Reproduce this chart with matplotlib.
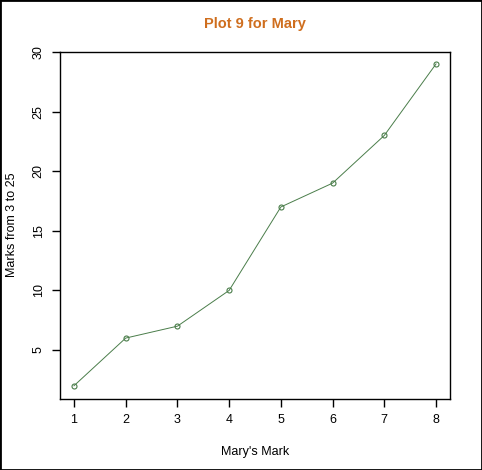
import matplotlib.pyplot as plt
from matplotlib.patches import Rectangle

marks_x = [1, 2, 3, 4, 5, 6, 7, 8]
marks_y = [2, 6, 7, 10, 17, 19, 23, 29]
y_ticks = [5, 10, 15, 20, 25, 30]

plt.rcParams['font.family'] = ['Liberation Sans', 'DejaVu Sans']

fig = plt.figure(figsize=(4.82, 4.70), dpi=100)
ax = fig.add_axes([60 / 482, 1 - 399 / 470, 390 / 482, 347 / 470])

ax.plot(marks_x, marks_y, color='#4a7d4a', linewidth=0.7,
        marker='o', markersize=3.6, markerfacecolor='none',
        markeredgecolor='#4a7d4a', markeredgewidth=0.8)

ax.set_xlim(0.73, 8.27)
ax.set_ylim(0.89, 30.0)
ax.set_xticks(marks_x)
ax.set_yticks(y_ticks)
ax.set_yticklabels([str(t) for t in y_ticks], rotation=90, va='center')
ax.tick_params(direction='out', length=6, width=1, labelsize=9, pad=5, color='black')
for sp in ax.spines.values():
    sp.set_linewidth(1)
    sp.set_color('black')

ax.set_xlabel("Mary's Mark", fontsize=9, labelpad=14)
fig.text(12 / 482, 1 - 225 / 470, "Marks from 3 to 25", rotation=90,
         ha='center', va='center', fontsize=9)
fig.text(255 / 482, 1 - 24 / 470, "Plot 9 for Mary", ha='center', va='center',
         fontsize=10.5, fontweight='bold', color='#CF6E1E')

fig.patches.append(Rectangle((0, 0), 1, 1, transform=fig.transFigure,
                             fill=False, edgecolor='black', linewidth=2))

fig.savefig('out.png', dpi=100)
